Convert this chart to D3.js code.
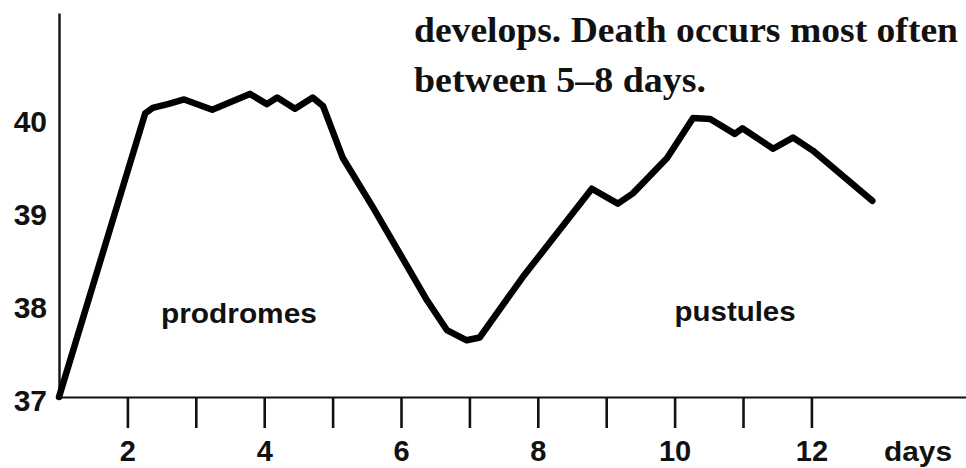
<!DOCTYPE html>
<html>
<head>
<meta charset="utf-8">
<script src="https://cdn.jsdelivr.net/npm/d3@7"></script>
<style>
  html, body { margin: 0; padding: 0; background: #fff; }
  svg { display: block; }
  .axis text { font-family: "Liberation Sans", Arial, sans-serif; font-weight: bold; fill: #111; }
  .axis path, .axis line { stroke: #111; }
</style>
</head>
<body>
<svg id="chart" width="966" height="468"></svg>
<script>
// Body temperature (°C) over the course of the illness, by day
const days  = [1.00, 2.26, 2.37, 2.59, 2.83, 3.24, 3.79, 4.04, 4.19, 4.45, 4.71, 4.86,
               5.15, 5.59, 6.38, 6.67, 6.96, 7.15, 7.78, 8.79, 9.17, 9.39, 9.89,
               10.27, 10.52, 10.88, 10.99, 11.44, 11.73, 12.02, 12.89];
const temps = [37.00, 40.05, 40.11, 40.15, 40.20, 40.09, 40.26, 40.15, 40.22, 40.10, 40.22, 40.13,
               39.57, 39.04, 38.04, 37.72, 37.61, 37.64, 38.29, 39.24, 39.08, 39.19, 39.57,
               40.00, 39.99, 39.83, 39.89, 39.67, 39.79, 39.65, 39.11];

const yTickValues = [37, 38, 39, 40];
const xTickValues = [2, 3, 4, 5, 6, 7, 8, 9, 10, 11, 12];
const xTickLabels = ["2", "", "4", "", "6", "", "8", "", "10", "", "12"];

const noteLines = [
  { text: "develops. Death occurs most often", width: 544 },
  { text: "between 5\u20138 days.", width: 292 }
];
const stageLabels = [
  { text: "prodromes", day: 2.49, temp: 37.80, width: 156 },
  { text: "pustules",  day: 10.00, temp: 37.82, width: 121 }
];
const unitLabel = "days";

const svg = d3.select("#chart");

const x = d3.scaleLinear().domain([1, 14.26]).range([59, 966]);
const y = d3.scaleLinear().domain([37, 41.13]).range([397, 13]);

// x axis: ticks every day, labels on even days
const xAxis = svg.append("g")
  .attr("class", "axis x-axis")
  .attr("transform", `translate(0,${y(37)})`)
  .call(d3.axisBottom(x)
    .tickValues(xTickValues)
    .tickSizeInner(31)
    .tickSizeOuter(0)
    .tickFormat((d, i) => xTickLabels[i]));
xAxis.select(".domain").attr("stroke-width", 2.2);
xAxis.selectAll(".tick line").attr("stroke-width", 2.6);
xAxis.selectAll(".tick text")
  .attr("font-size", 29)
  .attr("y", 64)
  .attr("dy", null);

// y axis: plain line with temperature labels
const yAxis = svg.append("g")
  .attr("class", "axis y-axis")
  .attr("transform", `translate(${x(1)},0)`)
  .call(d3.axisLeft(y)
    .tickValues(yTickValues)
    .tickSize(0)
    .tickPadding(12)
    .tickFormat(d3.format("d")));
yAxis.select(".domain").attr("stroke-width", 2.4);
yAxis.selectAll(".tick text")
  .attr("font-size", 30)
  .attr("dy", "0.46em");

// temperature curve
const line = d3.line()
  .x((d, i) => x(days[i]))
  .y((d, i) => y(temps[i]));

svg.append("path")
  .datum(temps)
  .attr("d", line)
  .attr("fill", "none")
  .attr("stroke", "#000")
  .attr("stroke-width", 6.5)
  .attr("stroke-linejoin", "round")
  .attr("stroke-linecap", "round");

// stage names under the curve
svg.selectAll("text.stage")
  .data(stageLabels)
  .join("text")
  .attr("class", "stage")
  .attr("x", d => x(d.day))
  .attr("y", d => y(d.temp))
  .attr("font-family", "Liberation Sans, Arial, sans-serif")
  .attr("font-weight", "bold")
  .attr("font-size", 27)
  .attr("textLength", d => d.width)
  .attr("lengthAdjust", "spacingAndGlyphs")
  .attr("fill", "#111")
  .text(d => d.text);

// unit at the end of the x axis
svg.append("text")
  .attr("x", 884)
  .attr("y", 461)
  .attr("font-family", "Liberation Sans, Arial, sans-serif")
  .attr("font-weight", "bold")
  .attr("font-size", 28)
  .attr("textLength", 68)
  .attr("lengthAdjust", "spacingAndGlyphs")
  .attr("fill", "#111")
  .text(unitLabel);

// note in the upper right
svg.selectAll("text.note")
  .data(noteLines)
  .join("text")
  .attr("class", "note")
  .attr("x", 414)
  .attr("y", (d, i) => 42 + i * 50)
  .attr("font-family", "Liberation Serif, 'Times New Roman', serif")
  .attr("font-weight", "bold")
  .attr("font-size", 36)
  .attr("textLength", d => d.width)
  .attr("lengthAdjust", "spacingAndGlyphs")
  .attr("fill", "#111")
  .text(d => d.text);
</script>
</body>
</html>
